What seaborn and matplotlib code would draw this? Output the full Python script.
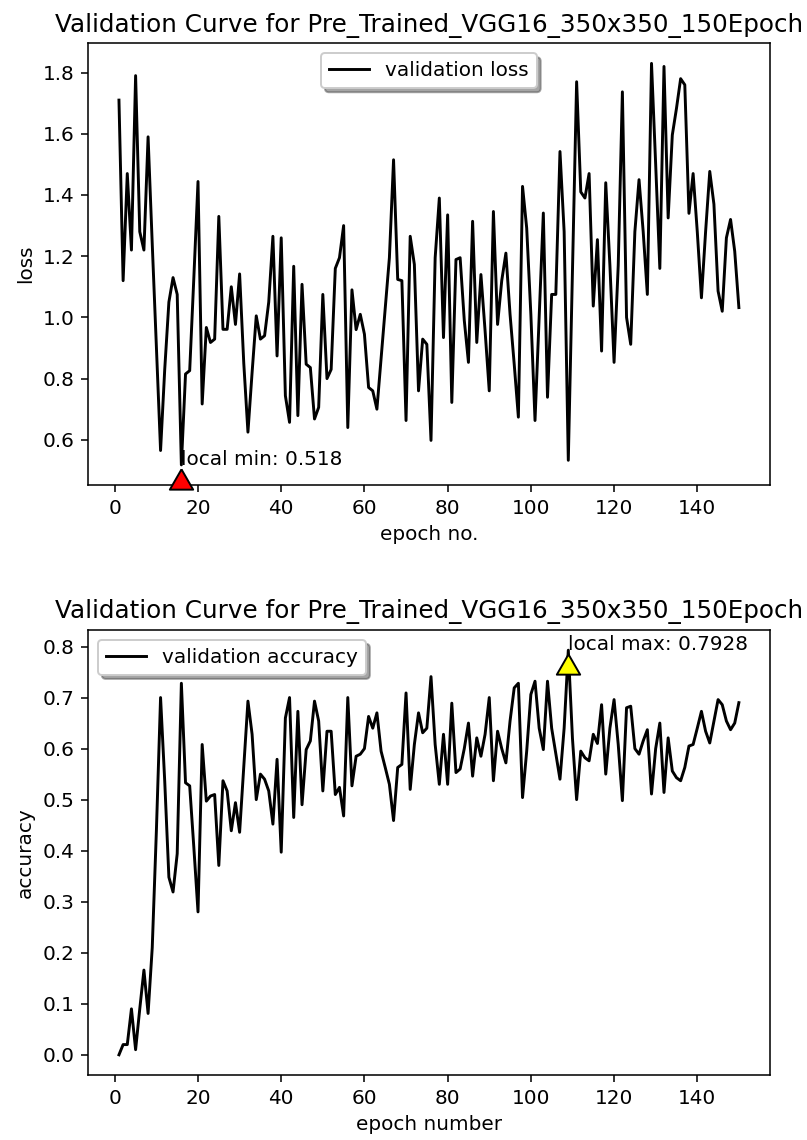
import matplotlib
matplotlib.use("Agg")
import matplotlib.pyplot as plt
import matplotlib.transforms as mtransforms
import seaborn as sns

# --- Data ---
epochs = list(range(1, 151))

val_loss = [
    1.71, 1.12, 1.47, 1.22, 1.79, 1.28, 1.22, 1.59, 1.24, 0.90,
    0.565, 0.83, 1.05, 1.13, 1.075, 0.518, 0.815, 0.826, 1.13, 1.444,
    0.717, 0.967, 0.918, 0.929, 1.33, 0.961, 0.961, 1.10, 0.977, 1.142,
    0.85, 0.625, 0.82, 1.005, 0.929, 0.94, 1.05, 1.265, 0.874, 1.26,
    0.744, 0.657, 1.167, 0.679, 1.108, 0.847, 0.836, 0.668, 0.706, 1.075,
    0.80, 0.83, 1.16, 1.195, 1.30, 0.64, 1.09, 0.96, 1.01, 0.945,
    0.771, 0.76, 0.70, 0.864, 1.03, 1.195, 1.515, 1.124, 1.12, 0.663,
    1.265, 1.173, 0.76, 0.929, 0.912, 0.598, 1.195, 1.39, 0.934, 1.335,
    0.722, 1.189, 1.195, 0.99, 0.853, 1.314, 0.918, 1.14, 0.956, 0.76,
    1.346, 0.977, 1.12, 1.21, 1.01, 0.847, 0.674, 1.428, 1.292, 1.01,
    0.663, 1.00, 1.341, 0.739, 1.075, 1.075, 1.542, 1.28, 0.533, 1.15,
    1.77, 1.41, 1.39, 1.47, 1.037, 1.254, 0.89, 1.44, 1.17, 0.853,
    1.17, 1.737, 1.00, 0.912, 1.28, 1.45, 1.28, 1.075, 1.83, 1.50,
    1.16, 1.82, 1.325, 1.596, 1.683, 1.78, 1.76, 1.34, 1.47, 1.28,
    1.064, 1.28, 1.477, 1.37, 1.086, 1.02, 1.26, 1.32, 1.216, 1.032,
]

val_acc = [
    0.0, 0.02, 0.02, 0.09, 0.01, 0.09, 0.166, 0.081, 0.21, 0.44,
    0.70, 0.536, 0.348, 0.319, 0.394, 0.728, 0.533, 0.527, 0.406, 0.28,
    0.608, 0.497, 0.507, 0.51, 0.371, 0.537, 0.517, 0.439, 0.494, 0.436,
    0.563, 0.693, 0.628, 0.50, 0.55, 0.54, 0.517, 0.452, 0.579, 0.397,
    0.66, 0.70, 0.465, 0.673, 0.49, 0.598, 0.615, 0.693, 0.654, 0.517,
    0.634, 0.634, 0.51, 0.524, 0.468, 0.70, 0.527, 0.585, 0.589, 0.60,
    0.663, 0.64, 0.67, 0.595, 0.563, 0.53, 0.459, 0.563, 0.569, 0.709,
    0.52, 0.608, 0.67, 0.631, 0.64, 0.741, 0.608, 0.53, 0.628, 0.53,
    0.689, 0.553, 0.56, 0.60, 0.65, 0.546, 0.621, 0.585, 0.628, 0.70,
    0.537, 0.634, 0.60, 0.572, 0.654, 0.719, 0.728, 0.504, 0.595, 0.706,
    0.732, 0.64, 0.598, 0.732, 0.64, 0.59, 0.54, 0.64, 0.7928, 0.62,
    0.50, 0.595, 0.582, 0.576, 0.628, 0.61, 0.686, 0.55, 0.64, 0.696,
    0.608, 0.498, 0.68, 0.683, 0.60, 0.589, 0.615, 0.637, 0.511, 0.60,
    0.65, 0.514, 0.621, 0.556, 0.543, 0.537, 0.563, 0.605, 0.608, 0.64,
    0.673, 0.634, 0.611, 0.654, 0.696, 0.686, 0.654, 0.637, 0.65, 0.69,
]

title = "Validation Curve for Pre_Trained_VGG16_350x350_150Epoch"

plt.rcParams["font.size"] = 10.3
plt.rcParams["axes.titlesize"] = 12.7

# --- Figure ---
DPI = 140
fig = plt.figure(figsize=(807 / DPI, 1140 / DPI), dpi=DPI)
ax1 = fig.add_axes([0.109, 0.5746, 0.845, 0.3874])
ax2 = fig.add_axes([0.109, 0.057, 0.845, 0.3904])

# flat triangle, like an arrow head
tri = [(0, 0.87), (-1, -0.87), (1, -0.87), (0, 0.87)]


def mark_point(ax, x, y, color, text):
    xlim, ylim = ax.get_xlim(), ax.get_ylim()
    ax.text(x, y, text, zorder=1)
    trans = mtransforms.offset_copy(ax.transData, fig=fig, y=-7.2, units="points")
    ax.plot([x], [y], marker=tri, ms=12, color=color, mec="black", mew=1,
            linestyle="none", transform=trans, clip_on=False, zorder=4)
    ax.set_xlim(xlim)
    ax.set_ylim(ylim)


# LOSS
sns.lineplot(x=epochs, y=val_loss, color="black", linewidth=1.5,
             label="validation loss", ax=ax1)
ax1.set_title(title)
ax1.set_xlabel("epoch no.")
ax1.set_ylabel("loss")
ax1.legend(loc="upper center", shadow=True)
i_min = val_loss.index(min(val_loss))
mark_point(ax1, epochs[i_min], val_loss[i_min], "red", f"local min: {val_loss[i_min]}")

# ACCURACY
sns.lineplot(x=epochs, y=val_acc, color="black", linewidth=1.5,
             label="validation accuracy", ax=ax2)
ax2.set_title(title)
ax2.set_xlabel("epoch number")
ax2.set_ylabel("accuracy")
ax2.legend(loc="upper left", shadow=True)
i_max = val_acc.index(max(val_acc))
mark_point(ax2, epochs[i_max], val_acc[i_max], "yellow", f"local max: {val_acc[i_max]}")

fig.savefig("out.png", dpi=DPI)
plt.close(fig)
